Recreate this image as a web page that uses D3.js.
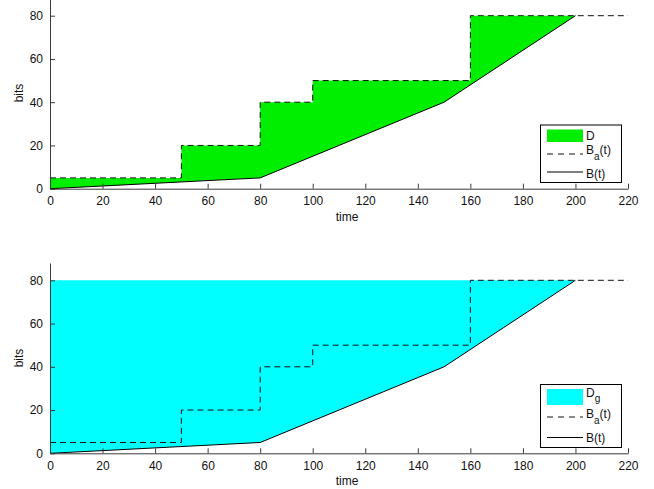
<!DOCTYPE html>
<html>
<head>
<meta charset="utf-8">
<script src="https://cdn.jsdelivr.net/npm/d3@7"></script>
<style>
  html, body { margin: 0; padding: 0; background: #fff; }
  svg { display: block; }
  text { font-family: "Liberation Sans", Arial, Helvetica, sans-serif; }
</style>
</head>
<body>
<svg id="chart" width="654" height="489"></svg>
<script>
// Axis ticks
const timeTicks = [0, 20, 40, 60, 80, 100, 120, 140, 160, 180, 200, 220];
const bitsTicks = [0, 20, 40, 60, 80];

// Arrival curve B_a(t): piecewise constant, value holds from each time until the next
const arrivalTime = [0, 50, 80, 100, 160, 220];
const arrivalBits = [5, 20, 40, 50, 80, 80];

// Service curve B(t): piecewise linear
const serviceTime = [0, 80, 150, 200];
const serviceBits = [0, 5, 40, 80];

// Upper bound of the D_g region
const gBits = 80;
const fillEnd = 200;

const svg = d3.select("#chart");

function drawPanel(cfg) {
  const x = d3.scaleLinear().domain([0, 220]).range([50, 628]);
  const y = d3.scaleLinear().domain([0, 88]).range([cfg.y0, cfg.yTop]);
  const g = svg.append("g");

  const line = d3.line().x(d => x(d[0])).y(d => y(d[1]));

  // step vertices of B_a(t)
  const arrivalPts = [];
  arrivalTime.forEach((t, i) => {
    if (i > 0) arrivalPts.push([t, arrivalBits[i - 1]]);
    arrivalPts.push([t, arrivalBits[i]]);
  });
  const servicePts = serviceTime.map((t, i) => [t, serviceBits[i]]);

  // filled region: upper edge, then B(t) back to the origin
  let upper;
  if (cfg.kind === "D") {
    upper = arrivalPts.filter(p => p[0] <= fillEnd);
  } else {
    upper = [[0, gBits], [fillEnd, gBits]];
  }
  const poly = upper.concat(servicePts.slice().reverse());
  g.append("path")
    .attr("d", line(poly) + "Z")
    .attr("fill", cfg.fill)
    .attr("stroke", "none");

  g.append("path")
    .attr("d", line(arrivalPts))
    .attr("fill", "none")
    .attr("stroke", "#111")
    .attr("stroke-width", 1)
    .attr("stroke-dasharray", "6,4");

  g.append("path")
    .attr("d", line(servicePts))
    .attr("fill", "none")
    .attr("stroke", "#000")
    .attr("stroke-width", 1);

  // axes
  const xAxis = d3.axisBottom(x).tickValues(timeTicks).tickSizeInner(-5).tickSizeOuter(0).tickPadding(8);
  const yAxis = d3.axisLeft(y).tickValues(bitsTicks).tickSizeInner(-5).tickSizeOuter(0).tickPadding(7);

  const gx = g.append("g").attr("transform", `translate(0,${cfg.y0})`).call(xAxis);
  const gy = g.append("g").attr("transform", `translate(50,0)`).call(yAxis);
  [gx, gy].forEach(a => {
    a.selectAll("path, line").attr("stroke", "#3a3a3a");
    a.selectAll("text").attr("fill", "#111").style("font-size", "12px")
      .style("font-family", '"Liberation Sans", Arial, sans-serif');
  });

  g.append("text")
    .attr("x", (50 + 628) / 2 + 8)
    .attr("y", cfg.y0 + 32)
    .attr("text-anchor", "middle")
    .attr("fill", "#111")
    .style("font-size", "12px")
    .text("time");

  g.append("text")
    .attr("transform", `translate(23,${cfg.bitsY}) rotate(-90)`)
    .attr("text-anchor", "middle")
    .attr("fill", "#111")
    .style("font-size", "12px")
    .text("bits");

  // legend
  const L = cfg.legend;
  const lg = g.append("g");
  lg.append("rect")
    .attr("x", 540.5).attr("y", L.top)
    .attr("width", 81).attr("height", L.h)
    .attr("fill", "#fff").attr("stroke", "#000").attr("stroke-width", 1);
  lg.append("rect")
    .attr("x", 547).attr("y", L.swatchY)
    .attr("width", 36).attr("height", L.swatchH)
    .attr("fill", cfg.fill);
  const t1 = lg.append("text").attr("x", 586).attr("y", L.t1).attr("fill", "#111").style("font-size", "12px");
  t1.append("tspan").text("D");
  if (cfg.kind === "G") t1.append("tspan").attr("dy", 5).style("font-size", "10px").text("g");

  lg.append("line")
    .attr("x1", 547).attr("x2", 583).attr("y1", L.dashY).attr("y2", L.dashY)
    .attr("stroke", "#111").attr("stroke-dasharray", "6,5");
  const t2 = lg.append("text").attr("x", 586).attr("y", L.t2).attr("fill", "#111").style("font-size", "12px");
  t2.append("tspan").text("B");
  t2.append("tspan").attr("dy", 6).style("font-size", "10px").text("a");
  t2.append("tspan").attr("dy", -6).text("(t)");

  lg.append("line")
    .attr("x1", 547).attr("x2", 583).attr("y1", L.solidY).attr("y2", L.solidY)
    .attr("stroke", "#000");
  lg.append("text").attr("x", 586).attr("y", L.t3).attr("fill", "#111").style("font-size", "12px").text("B(t)");
}

drawPanel({
  kind: "D", fill: "#00ee00", y0: 188.7, yTop: -1.6, bitsY: 93,
  legend: { top: 125, h: 57.5, swatchY: 129.5, swatchH: 12.5, t1: 139.5, dashY: 154, t2: 153.5, solidY: 172, t3: 177.5 }
});

drawPanel({
  kind: "G", fill: "#00ffff", y0: 453.3, yTop: 263, bitsY: 358,
  legend: { top: 384.5, h: 63, swatchY: 389, swatchH: 16, t1: 397, dashY: 417, t2: 417.5, solidY: 437.5, t3: 442 }
});
</script>
</body>
</html>
